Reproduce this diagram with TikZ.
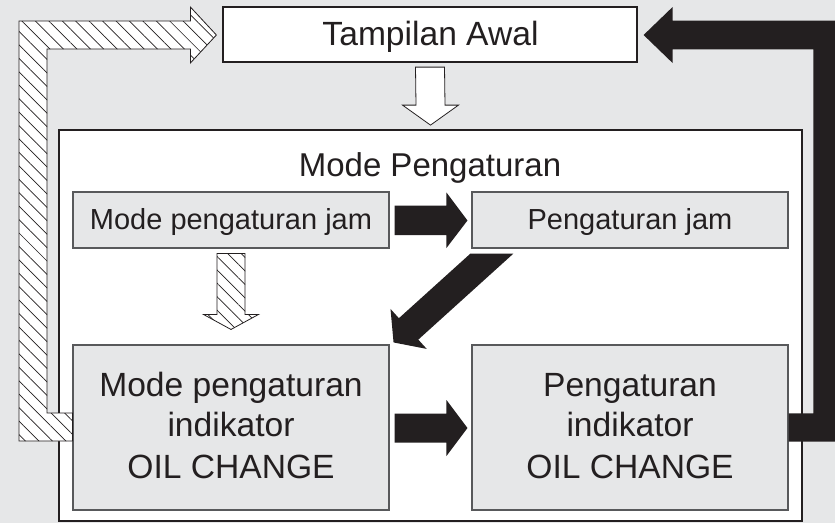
\documentclass[tikz,border=0pt]{standalone}
\usepackage{fontspec}
\setmainfont{Liberation Sans}
\usetikzlibrary{patterns.meta,calc}
\definecolor{bg}{HTML}{E6E7E8}
\definecolor{dark}{HTML}{231F20}
\definecolor{boxline}{HTML}{58595B}
\begin{document}
\begin{tikzpicture}[x=1pt,y=-1pt,
  gbox/.style={draw=boxline,line width=1.1pt,fill=bg,inner sep=0pt,minimum width=316pt},
  wbox/.style={draw=dark,line width=1.8pt,fill=white,inner sep=0pt},
  txtbig/.style={anchor=base,inner sep=0pt,text=dark,font=\fontsize{33.6}{40}\selectfont},
  txtsmall/.style={anchor=base,inner sep=0pt,text=dark,font=\fontsize{29}{34}\selectfont},
  hatch/.style={draw=dark,line width=0.8pt,preaction={fill=white},
    pattern={Lines[angle=-45,distance=9.5pt,line width=0.7pt]},pattern color=dark,line join=miter},
  blackarrow/.style={fill=dark,draw=none},
  whitearrow/.style={draw=dark,line width=0.8pt,fill=white,line join=miter}]
\fill[bg] (0,0) rectangle (835,523);
\useasboundingbox (0,0) rectangle (835,523);
% boxes
\node[wbox,minimum width=743pt,minimum height=391pt] (outer) at (430.5,325.5) {};
\node[wbox,minimum width=413.4pt,minimum height=55pt] (awal) at (430,34.2) {};
\node[gbox,minimum height=56pt] (jam1) at (231,220) {};
\node[gbox,minimum height=56pt] (jam2) at (630,220) {};
\node[gbox,minimum height=165pt] (ind1) at (231,427.5) {};
\node[gbox,minimum height=165pt] (ind2) at (630,427.5) {};
% texts
\node[txtbig] (tawal) at (430.5,45) {Tampilan Awal};
\node[txtbig,font=\fontsize{33}{40}\selectfont] (tmode) at (430,176.7) {Mode Pengaturan};
\node[txtsmall] (tjam1) at (231,229) {Mode pengaturan jam};
\node[txtsmall] (tjam2) at (630,229) {Pengaturan jam};
\node[txtbig] (ti1a) at (231,396) {Mode pengaturan};
\node[txtbig] (ti1b) at (231,436) {indikator};
\node[txtbig] (ti1c) at (231,478) {OIL CHANGE};
\node[txtbig] (ti2a) at (630,396.5) {Pengaturan};
\node[txtbig] (ti2b) at (630,436) {indikator};
\node[txtbig] (ti2c) at (630,478) {OIL CHANGE};
% white arrow: awal -> outer
\draw[whitearrow] ($(awal.south)+(-14.5,4.5)$) -- ($(awal.south)+(14.5,4.5)$)
  -- ($(outer.north)+(14.5,-24)$) -- ($(outer.north)+(28,-24)$) -- ($(outer.north)+(0,-4)$)
  -- ($(outer.north)+(-28,-24)$) -- ($(outer.north)+(-14.5,-24)$) -- cycle;
% black arrow jam1 -> jam2
\fill[blackarrow] ($(jam1.east)+(5,-14.5)$) -- ($(jam2.west)+(-25,-14.5)$) -- ($(jam2.west)+(-25,-27.5)$)
  -- ($(jam2.west)+(-4,0.5)$) -- ($(jam2.west)+(-25,28)$) -- ($(jam2.west)+(-25,15)$)
  -- ($(jam1.east)+(5,15)$) -- cycle;
% black arrow ind1 -> ind2
\fill[blackarrow] ($(ind1.east)+(5,-14)$) -- ($(ind2.west)+(-25,-14)$) -- ($(ind2.west)+(-25,-27.5)$)
  -- ($(ind2.west)+(-4,0.5)$) -- ($(ind2.west)+(-25,28.5)$) -- ($(ind2.west)+(-25,15)$)
  -- ($(ind1.east)+(5,15)$) -- cycle;
% diagonal black arrow jam2 -> ind1
\coordinate (dtip) at ($(ind1.north east)+(4,-2)$);
\fill[blackarrow] ($(jam2.south west)+(-1,5)$) -- ($(jam2.south west)+(42,5)$)
  -- (418.3,339.6) -- (426.7,348.9) -- (dtip) -- (390.5,308.9) -- (398.9,318.2) -- cycle;
% hatched arrow jam1 -> ind1
\draw[hatch] ($(jam1.south)+(-14,5)$) -- ($(jam1.south)+(14,5)$) -- ($(ind1.north)+(14,-30)$)
  -- ($(ind1.north)+(27.5,-30)$) -- ($(ind1.north)+(0,-15)$) -- ($(ind1.north)+(-27.5,-30)$)
  -- ($(ind1.north)+(-14,-30)$) -- cycle;
% big hatched arrow ind1 -> awal
\draw[hatch] (ind1.west |- 0,441) -- (19,441) -- (19,21) -- ($(awal.west)+(-32,-13.2)$)
  -- ($(awal.west)+(-32,-27.2)$) -- ($(awal.west)+(-6,0.8)$) -- ($(awal.west)+(-32,28.8)$)
  -- ($(awal.west)+(-32,14.8)$) -- (47,49) -- (47,413) -- (ind1.west |- 0,413) -- cycle;
% big black arrow ind2 -> awal
\fill[blackarrow] ($(awal.east)+(6,0.8)$) -- ($(awal.east)+(35,-27.2)$) -- ($(awal.east)+(35,-13.5)$)
  -- (845,20.7) -- (845,441.7) -- (ind2.east |- 0,441.7) -- (ind2.east |- 0,413.3)
  -- (813.3,413.3) -- (813.3,49.3) -- ($(awal.east)+(35,15.1)$) -- ($(awal.east)+(35,28.8)$) -- cycle;
\end{tikzpicture}
\end{document}
